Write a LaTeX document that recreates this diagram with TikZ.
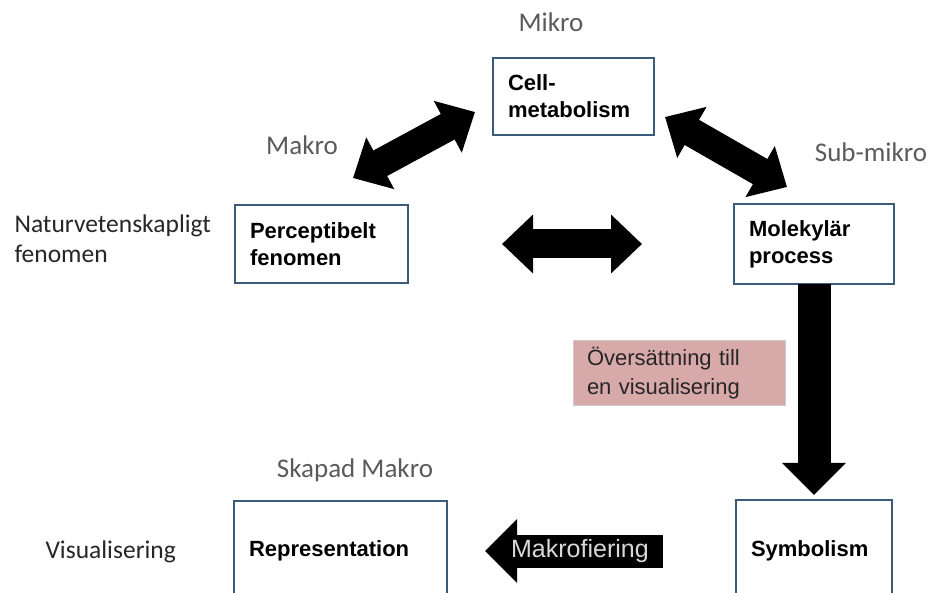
\documentclass[tikz,border=0pt]{standalone}
\usepackage{fontspec}
\setmainfont{Liberation Sans}
\newfontfamily\calibri{Carlito}
\usepackage{tikz}
\usetikzlibrary{positioning,arrows.meta}
\definecolor{levelBlue}{HTML}{3C5B79}
\definecolor{levelGray}{HTML}{5A5A5A}
\definecolor{noteRose}{HTML}{D8A9A9}

\begin{document}
\begin{tikzpicture}[x=1pt, y=-1pt,
  levelbox/.style={rectangle, draw=levelBlue, line width=2.8pt, fill=white, outer sep=0pt, inner xsep=15pt, inner ysep=0pt, align=left, font=\bfseries\fontsize{22}{27}\selectfont},
  scalelabel/.style={anchor=base, text=levelGray, font=\calibri\fontsize{27}{32}\selectfont},
  sidelabel/.style={align=left, text=black!85, font=\calibri\fontsize{25.5}{30}\selectfont},
  twoway/.style={line width=29pt, {Triangle[length=31pt, width=57pt]}-{Triangle[length=31pt, width=57pt]}},
  oneway/.style={line width=33pt, -{Triangle[length=32pt, width=62pt]}}]
\useasboundingbox (0,0) rectangle (932,593);
\clip (0,0) rectangle (932,593);
\node[levelbox, text width=131pt, minimum height=77pt] (cell) at (573.5,96.5) {Cell-\\metabolism};
\node[levelbox, text width=143pt, minimum height=78pt] (perc) at (321.5,244) {Perceptibelt\\fenomen};
\node[levelbox, text width=130pt, minimum height=80pt, right=326pt of perc] (mole) {Molekylär\\process};
\node[levelbox, text width=126pt, minimum height=102pt, below=216pt of mole] (symb) {Symbolism};
\node[levelbox, text width=183pt, minimum height=100pt, left=289pt of symb] (repr) {Representation};
\node[draw=black!20, fill=noteRose, line width=1pt, inner xsep=14pt, text width=184pt, minimum height=65pt, align=left, text=black!85, font=\fontsize{22}{29}\selectfont] (note) at (679,373.5) {Översättning till\\en visualisering};

\node[scalelabel] (mikro) at (551,32) {Mikro};
\node[scalelabel] (makro) at (302,155) {Makro};
\node[scalelabel] (submikro) at (871,162) {Sub-mikro};
\node[scalelabel] (skapad) at (355,478) {Skapad Makro};
\node[sidelabel, anchor=west] (natur) at (11,239) {Naturvetenskapligt\\fenomen};
\node[sidelabel, anchor=base west] (visual) at (42,558) {Visualisering};

\coordinate (makroTip) at (353,178);
\coordinate (mikroTipL) at (475,112);
\coordinate (mikroTipR) at (665,117);
\coordinate (submikroTip) at (787,187);
\draw[twoway] (makroTip) -- (mikroTipL);
\draw[twoway] (mikroTipR) -- (submikroTip);
\draw[twoway, shorten <=94pt, shorten >=92pt] (perc) -- (mole);
\draw[oneway, shorten >=5pt] (mole) -- (symb);
\draw[oneway, shorten <=73pt, shorten >=38pt] (symb) -- (repr) node[pos=0.54, text=black!15, font=\fontsize{25}{30}\selectfont] (makrofiering) {Makrofiering};
\end{tikzpicture}
\end{document}
